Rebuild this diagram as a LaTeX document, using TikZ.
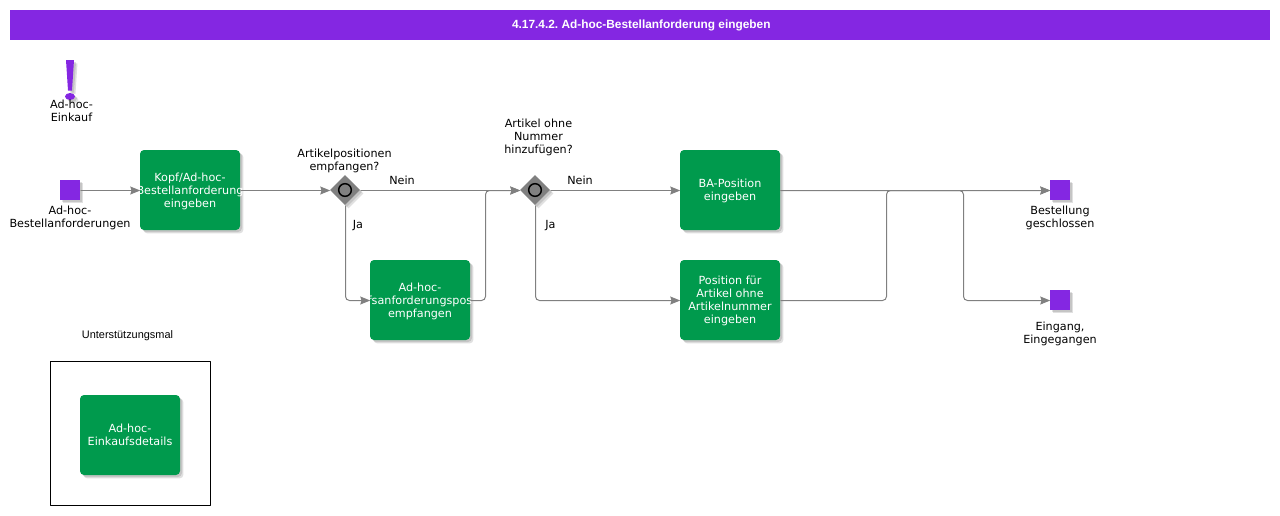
\documentclass[tikz,border=0pt]{standalone}
\usepackage{fontspec}
\setmainfont{DejaVu Sans}
\newfontfamily\titlefont{Liberation Sans}
\usetikzlibrary{arrows.meta,shapes.geometric,shadows}
\definecolor{barpurple}{HTML}{8427E2}
\definecolor{taskgreen}{HTML}{009A4D}
\definecolor{linegray}{HTML}{808080}
\newcommand{\tasklines}[1]{\rule{0pt}{8pt}#1\rule[-2pt]{0pt}{2pt}}
\tikzset{
	softshadow/.style={drop shadow={shadow xshift=1.5pt,shadow yshift=-1.5pt,fill=black,opacity=0.12},drop shadow={shadow xshift=2.6pt,shadow yshift=-2.6pt,fill=black,opacity=0.12}},
	caption/.style={inner sep=0pt,align=center,text=black,font=\fontsize{8.4}{9.75}\selectfont},
	taskbox/.style={rectangle,rounded corners=3pt,fill=taskgreen,softshadow,minimum width=75pt,minimum height=60pt,inner sep=0pt,align=center,text=white,font=\fontsize{8.4}{9.75}\selectfont},
	eventbox/.style={rectangle,fill=barpurple,softshadow,minimum size=15pt,inner sep=0pt},
	gatebox/.style={diamond,fill=linegray,softshadow,minimum size=22.5pt,inner sep=0pt,aspect=1},
	gatering/.style={circle,draw=black,line width=1.1pt,minimum size=9.5pt,inner sep=0pt},
	flow/.style={draw=linegray,line width=0.75pt,rounded corners=3pt,transform canvas={xshift=0.375pt,yshift=-0.375pt},-{Stealth[length=7.5pt,width=6pt,inset=1pt]}}
}
\begin{document}
\begin{tikzpicture}[line cap=round,line join=round,x=0.75pt,y=-0.75pt]
	\useasboundingbox (0,0) rectangle (1280,515);
	% header
	\node[rectangle,fill=barpurple,minimum width=945pt,minimum height=22.5pt,inner sep=0pt,text=white,font=\titlefont\bfseries\fontsize{8.9}{11}\selectfont\frenchspacing] (titlebar) at (640,25) {\hspace*{2pt}\raisebox{-0.75pt}{4.17.4.2. Ad-hoc-Bestellanforderung eingeben}};
	% exclamation mark
	\fill[barpurple,softshadow] (66,60) -- (74,60) -- (72,90.5) -- (68,90.5) -- cycle;
	\fill[barpurple,softshadow] (70,96.5) ellipse (5 and 3.5);
	\node[caption] (purpose) at (71.5,111) {Ad-hoc-\\Einkauf};
	% events
	\node[eventbox] (start) at (70,190) {};
	\node[caption] (startlabel) at (70,218) {Ad-hoc-\\Bestellanforderungen};
	\node[eventbox] (closed) at (1060,190) {};
	\node[caption] (closedlabel) at (1060,218) {Bestellung\\geschlossen};
	\node[eventbox] (received) at (1060,300) {};
	\node[caption] (receivedlabel) at (1060,334) {Eingang,\\Eingegangen};
	% tasks
	\node[taskbox] (head) at (190,190) {\tasklines{Kopf/Ad-hoc-\\\makebox[0pt]{Bestellanforderung}\\eingeben}};
	\node[taskbox] (request) at (420,300) {\tasklines{Ad-hoc-\\\makebox[0pt]{fsanforderungspos}\\empfangen}};
	\node[taskbox] (position) at (730,190) {\tasklines{BA-Position\\eingeben}};
	\node[taskbox] (nonumber) at (730,300) {\tasklines{Position für\\Artikel ohne\\Artikelnummer\\eingeben}};
	% gateways
	\node[gatebox] (gatefirst) at (345,190) {};
	\node[gatering] (ringfirst) at (345,190) {};
	\node[caption] (gatefirstlabel) at (344.5,160.5) {Artikelpositionen\\empfangen?};
	\node[gatebox] (gatesecond) at (535,190) {};
	\node[gatering] (ringsecond) at (535,190) {};
	\node[caption] (gatesecondlabel) at (538.5,137) {Artikel ohne\\Nummer\\hinzufügen?};
	% junction points
	\coordinate (joinrequest) at (485,190);
	\coordinate (joinnumber) at (886,190);
	\coordinate (splitreceived) at (963,190);
	% flows
	\draw[flow] (start) -- (head);
	\draw[flow] (head) -- (gatefirst);
	\draw[flow] (gatefirst) -- (gatesecond);
	\draw[flow] (gatefirst) |- (request);
	\draw[flow] (request) -| (joinrequest) -- (gatesecond);
	\draw[flow] (gatesecond) -- (position);
	\draw[flow] (gatesecond) |- (nonumber);
	\draw[flow] (position) -- (closed);
	\draw[flow] (nonumber) -| (joinnumber) -- (closed);
	\draw[flow] (position) -- (splitreceived) |- (received);
	% flow labels
	\node[caption] (neinfirst) at (402,180.5) {Nein};
	\node[caption] (jafirst) at (358,226) {Ja};
	\node[caption] (neinsecond) at (580,180.5) {Nein};
	\node[caption] (jasecond) at (550.5,226) {Ja};
	% support box
	\node[rectangle,draw=black,line width=0.75pt,minimum width=120pt,minimum height=108pt,inner sep=0pt] (supportframe) at (130.5,433) {};
	\node[inner sep=0pt,font=\titlefont\fontsize{8.2}{10}\selectfont] (supportlabel) at (127.5,335.5) {Unterstützungsmal};
	\node[taskbox] (details) at (130,435) {\tasklines{Ad-hoc-\\Einkaufsdetails}};
\end{tikzpicture}
\end{document}
